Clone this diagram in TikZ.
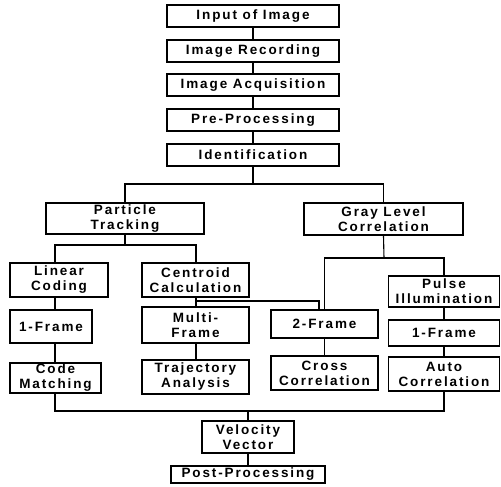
\documentclass[tikz,border=0pt]{standalone}
\usepackage{fontspec}
\setmainfont{Liberation Sans}[LetterSpace=14]
\usetikzlibrary{calc}
\begin{document}
\begin{tikzpicture}[x=1pt,y=-1pt,
  box/.style={draw, line width=1.5pt, inner sep=0pt, align=center,
    font=\bfseries\fontsize{13.5}{15}\selectfont},
  conn/.style={line width=1.1pt}]
\useasboundingbox (0,0) rectangle (501,487);
% top chain
\node[box, minimum width=172pt, minimum height=22pt] (in)  at (253,16)  {Input of Image};
\node[box, minimum width=172pt, minimum height=22pt] (rec) at (253,51)  {Image Recording};
\node[box, minimum width=172pt, minimum height=22pt] (acq) at (253,85)  {Image Acquisition};
\node[box, minimum width=172pt, minimum height=22pt] (pre) at (253,120) {Pre-Processing};
\node[box, minimum width=172pt, minimum height=22pt] (idf) at (253,155) {Identification};
% second level
\node[box, minimum width=158pt, minimum height=31pt] (pt) at (125,218.5) {Particle\\Tracking};
\node[box, minimum width=159pt, minimum height=32pt] (gl) at (383.5,219) {Gray Level\\Correlation};
% particle tracking branch
\node[box, minimum width=98pt, minimum height=34pt] (lc) at (59,280) {Linear\\Coding};
\node[box, minimum width=107pt, minimum height=34pt] (cc) at (195.5,280) {Centroid\\Calculation};
\node[box, minimum width=82pt, minimum height=33pt] (fa) at (51,326.5) {1-Frame};
\node[box, minimum width=107pt, minimum height=36pt] (mf) at (195.5,325) {Multi-\\Frame};
\node[box, minimum width=91pt, minimum height=30pt] (cm) at (55.5,378) {Code\\Matching};
\node[box, minimum width=107pt, minimum height=34pt] (ta) at (195.5,377) {Trajectory\\Analysis};
% gray level branch
\node[box, minimum width=107pt, minimum height=28pt] (fb) at (324.5,324) {2-Frame};
\node[box, minimum width=107pt, minimum height=34pt] (cr) at (324.5,373) {Cross\\Correlation};
\node[box, minimum width=111pt, minimum height=31pt] (pi) at (444,291.5) {Pulse\\Illumination};
\node[box, minimum width=111pt, minimum height=26pt] (fc) at (444,333) {1-Frame};
\node[box, minimum width=111pt, minimum height=34pt] (ac) at (444,374) {Auto\\Correlation};
% bottom
\node[box, minimum width=92pt, minimum height=32pt] (vv) at (248,437) {Velocity\\Vector};
\node[box, minimum width=154pt, minimum height=17pt] (pp) at (248,474.5) {Post-Processing};
% helper coordinates
\coordinate (j1) at (253,184);
\coordinate (j2) at (125,245);
\coordinate (xL) at (55,0);
\coordinate (xR) at (196,0);
\coordinate (jc) at (196,301);
\coordinate (x2) at (319,0);
\coordinate (jg) at (384,258);
\coordinate (jb) at (248,411);
% connectors
\draw[conn] (in) -- (rec);
\draw[conn] (rec) -- (acq);
\draw[conn] (acq) -- (pre);
\draw[conn] (pre) -- (idf);
\draw[conn] (idf) -- (j1);
\draw[conn] (pt.north) |- (j1) -| (gl.north);
\draw[conn] (pt.south) -- (j2);
\draw[conn] (lc.north -| xL) |- (j2) -| (cc.north -| xR);
\draw[conn] (lc.south -| xL) -- (fa.north -| xL);
\draw[conn] (fa.south -| xL) -- (cm.north -| xL);
\draw[conn] (cc.south -| xR) -- (mf.north -| xR);
\draw[conn] (jc) -| (fb.north -| x2);
\draw[conn] (mf.south -| xR) -- (ta.north -| xR);
\draw[conn] (gl.south) -- (jg);
\draw[conn] (fb.north) |- (jg) -| (pi.north);
\draw[conn] (fb) -- (cr);
\draw[conn] (pi) -- (fc);
\draw[conn] (fc) -- (ac);
\draw[conn] (cm.south -| xL) |- (jb) -| (ac.south);
\draw[conn] (jb) -- (vv.north);
\draw[conn] (vv) -- (pp);
\end{tikzpicture}
\end{document}
